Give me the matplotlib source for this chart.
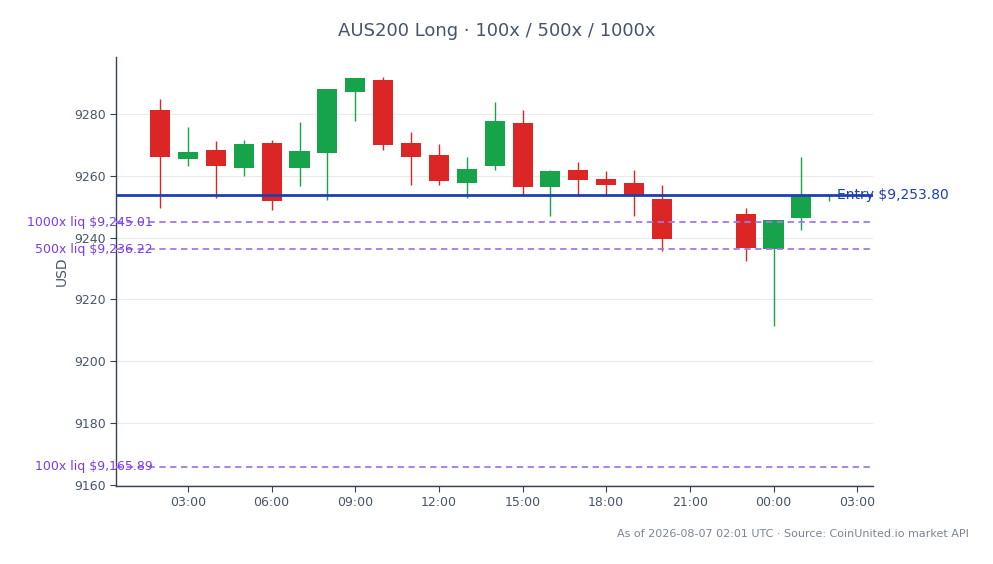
import matplotlib
matplotlib.use("Agg")
import matplotlib.pyplot as plt
import matplotlib.dates as mdates
import pandas as pd

# ---- data ----
times = ["2026-08-06 02:00", "2026-08-06 03:00", "2026-08-06 04:00", "2026-08-06 05:00",
         "2026-08-06 06:00", "2026-08-06 07:00", "2026-08-06 08:00", "2026-08-06 09:00",
         "2026-08-06 10:00", "2026-08-06 11:00", "2026-08-06 12:00", "2026-08-06 13:00",
         "2026-08-06 14:00", "2026-08-06 15:00", "2026-08-06 16:00", "2026-08-06 17:00",
         "2026-08-06 18:00", "2026-08-06 19:00", "2026-08-06 20:00", "2026-08-06 23:00",
         "2026-08-07 00:00", "2026-08-07 01:00", "2026-08-07 02:00"]
opens  = [9281.3, 9265.3, 9268.4, 9262.4, 9270.6, 9262.4, 9267.2, 9287.2, 9291.0, 9270.6,
          9266.8, 9257.5, 9263.0, 9277.1, 9256.2, 9261.9, 9259.0, 9257.7, 9252.6, 9247.7,
          9236.2, 9246.5, 9253.6]
highs  = [9284.8, 9275.8, 9271.1, 9271.4, 9271.6, 9277.5, 9288.0, 9291.6, 9292.0, 9274.3,
          9270.3, 9266.1, 9283.9, 9281.3, 9261.9, 9264.5, 9261.6, 9261.9, 9257.1, 9249.7,
          9245.8, 9266.1, 9253.9]
lows   = [9249.5, 9263.2, 9252.7, 9259.8, 9249.0, 9256.8, 9252.3, 9277.7, 9268.4, 9257.1,
          9257.1, 9252.7, 9261.9, 9253.9, 9246.9, 9253.3, 9253.3, 9246.9, 9235.6, 9232.4,
          9211.4, 9242.4, 9251.7]
closes = [9265.9, 9267.7, 9263.2, 9270.3, 9251.7, 9268.1, 9288.0, 9291.6, 9269.8, 9265.9,
          9258.2, 9262.3, 9277.7, 9256.2, 9261.6, 9258.5, 9256.9, 9253.3, 9239.5, 9236.5,
          9245.8, 9253.7, 9253.8]

entry_price = 9253.80
liq_labels = ["1000x liq", "500x liq", "100x liq"]
liq_prices = [9245.01, 9236.22, 9165.89]

title = "AUS200 Long · 100x / 500x / 1000x"
footer = "As of 2026-08-07 02:01 UTC · Source: CoinUnited.io market API"
xlim = ["2026-08-06 00:25", "2026-08-07 03:34"]
ylim = [9159.7, 9298.4]

# ---- style ----
GREEN = "#16a34a"
RED = "#dc2626"
ENTRY = "#1e40af"
LIQ_LINE = "#a07ae6"
LIQ_TEXT = "#7c3aed"
TEXT = "#475569"
SPINE = "#374151"

fig = plt.figure(figsize=(9.93, 5.64), dpi=100)
ax = fig.add_axes([0.1168, 0.1383, 0.7623, 0.7607])

t = mdates.date2num(pd.to_datetime(times))
width = 0.72 / 24.0

for ti, o, h, l, c in zip(t, opens, highs, lows, closes):
    col = GREEN if c >= o else RED
    ax.vlines(ti, l, h, color=col, linewidth=1.0, zorder=2)
    bottom = min(o, c)
    height = max(abs(c - o), 0.15)
    ax.bar(ti, height, bottom=bottom, width=width, color=col, edgecolor="none",
           linewidth=0, zorder=3)

# entry line
ax.axhline(entry_price, color=ENTRY, linewidth=2.0, zorder=4)
ax.text(0.952, entry_price, f"Entry ${entry_price:,.2f}", transform=ax.get_yaxis_transform(),
        color=ENTRY, fontsize=10, ha="left", va="center", zorder=5, clip_on=False)

# liquidation lines
for lab, p in zip(liq_labels, liq_prices):
    ax.axhline(p, color=LIQ_LINE, linewidth=1.3, linestyle=(0, (3.5, 2.5)), zorder=4)
    ax.text(0.049, p, f"{lab} ${p:,.2f}", transform=ax.get_yaxis_transform(),
            color=LIQ_TEXT, fontsize=9, ha="right", va="center", zorder=5, clip_on=False)

ax.set_xlim(mdates.date2num(pd.to_datetime(xlim)))
ax.set_ylim(*ylim)
ax.set_yticks([9160, 9180, 9200, 9220, 9240, 9260, 9280])
ax.xaxis.set_major_locator(mdates.HourLocator(byhour=[0, 3, 6, 9, 12, 15, 18, 21]))
ax.xaxis.set_major_formatter(mdates.DateFormatter("%H:%M"))

ax.grid(axis="y", color="#e8eaee", linewidth=0.8, zorder=0)
ax.set_axisbelow(True)
for s in ["top", "right"]:
    ax.spines[s].set_visible(False)
for s in ["left", "bottom"]:
    ax.spines[s].set_color(SPINE)
    ax.spines[s].set_linewidth(1.0)
ax.tick_params(axis="both", colors=SPINE, labelcolor=TEXT, labelsize=9, length=4, width=0.8)

ax.set_ylabel("USD", color=TEXT, fontsize=10, labelpad=4)
fig.text(0.5, 0.945, title, ha="center", va="center", fontsize=13, color=TEXT)
fig.text(0.976, 0.054, footer, ha="right", va="center", fontsize=8, color="#7b8494")

fig.savefig("out.png", dpi=100)
